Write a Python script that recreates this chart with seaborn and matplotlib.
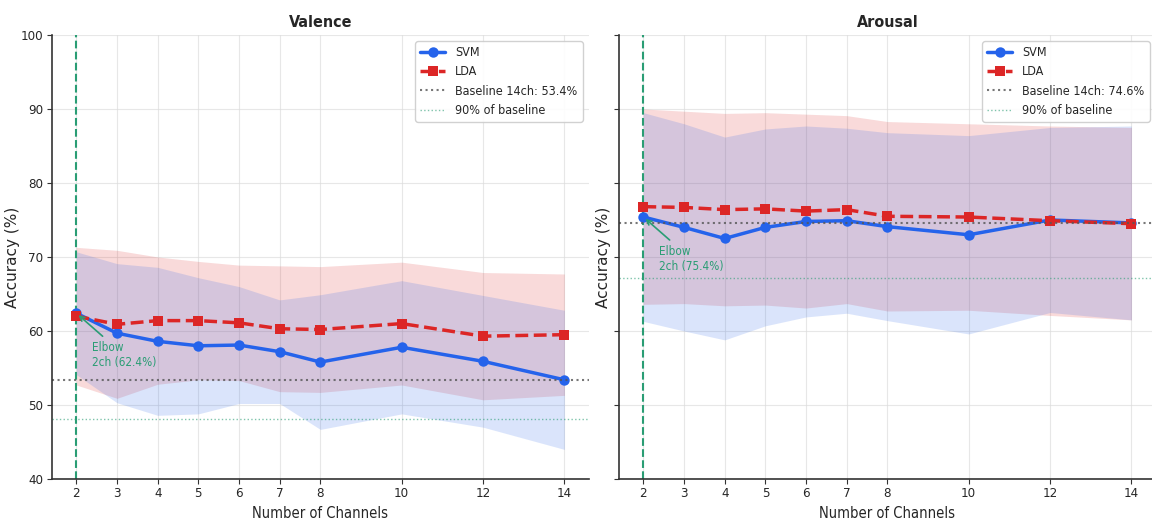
import matplotlib
matplotlib.use("Agg")
import matplotlib.pyplot as plt
import numpy as np
import pandas as pd
import seaborn as sns

# ---------------- data ----------------
channels = [2, 3, 4, 5, 6, 7, 8, 10, 12, 14]

valence_svm_mean = [62.4, 59.7, 58.6, 58.0, 58.1, 57.2, 55.8, 57.8, 55.9, 53.4]
valence_svm_std = [8.3, 9.4, 10.0, 9.2, 7.9, 7.0, 9.1, 9.0, 8.9, 9.4]
valence_lda_mean = [62.0, 60.9, 61.4, 61.4, 61.1, 60.3, 60.2, 61.0, 59.3, 59.5]
valence_lda_std = [9.3, 10.0, 8.6, 8.0, 7.8, 8.5, 8.5, 8.3, 8.6, 8.2]

arousal_svm_mean = [75.4, 74.0, 72.5, 74.0, 74.8, 74.9, 74.1, 73.0, 75.0, 74.6]
arousal_svm_std = [14.1, 14.0, 13.7, 13.3, 12.9, 12.5, 12.7, 13.4, 12.5, 13.1]
arousal_lda_mean = [76.8, 76.7, 76.4, 76.5, 76.2, 76.4, 75.5, 75.4, 74.9, 74.5]
arousal_lda_std = [13.2, 13.0, 13.0, 13.0, 13.1, 12.7, 12.8, 12.6, 12.8, 13.0]

panel_titles = ["Valence", "Arousal"]
baseline_values = [53.4, 74.6]
elbow_channels = [2, 2]
elbow_values = [62.4, 75.4]

# ---------------- style ----------------
sns.set_style("ticks")
plt.rcParams["font.family"] = ["DejaVu Sans"]
plt.rcParams["font.stretch"] = "condensed"

BLUE = "#2563eb"
RED = "#dc2626"
GREEN = "#2a9d74"

fig = plt.figure(figsize=(11.52, 5.22), dpi=100)
ax1 = fig.add_axes([0.0451, 0.0824, 0.466, 0.8506])
ax2 = fig.add_axes([0.5373, 0.0824, 0.466, 0.8506], sharey=ax1)
axes = [ax1, ax2]

panels = [
    (valence_svm_mean, valence_svm_std, valence_lda_mean, valence_lda_std),
    (arousal_svm_mean, arousal_svm_std, arousal_lda_mean, arousal_lda_std),
]

for i, ax in enumerate(axes):
    svm_m, svm_s, lda_m, lda_s = [np.array(a) for a in panels[i]]
    df = pd.DataFrame({"Channels": channels, "SVM": svm_m, "LDA": lda_m})

    ax.fill_between(channels, lda_m - lda_s, lda_m + lda_s, color=RED, alpha=0.17, lw=0)
    ax.fill_between(channels, svm_m - svm_s, svm_m + svm_s, color=BLUE, alpha=0.17, lw=0)

    sns.lineplot(data=df, x="Channels", y="SVM", ax=ax, color=BLUE, marker="o",
                 markersize=7.5, markeredgewidth=0, linewidth=2.5, label="SVM")
    sns.lineplot(data=df, x="Channels", y="LDA", ax=ax, color=RED, marker="s",
                 markersize=7.5, markeredgewidth=0, linewidth=2.5, linestyle="--",
                 label="LDA")

    base = baseline_values[i]
    ax.axhline(base, color="#555555", linestyle=":", linewidth=1.5, alpha=0.8,
               label=f"Baseline 14ch: {base:.1f}%")
    ax.axhline(0.9 * base, color=GREEN, linestyle=":", linewidth=1.0, alpha=0.6,
               label="90% of baseline")
    ax.axvline(elbow_channels[i], color=GREEN, linestyle="--", linewidth=1.5,
               zorder=1.5)

    ex, ey = elbow_channels[i], elbow_values[i]
    ax.annotate(f"Elbow\n{ex}ch ({ey:.1f}%)", xy=(ex, ey),
                xytext=(ex + 0.39, ey - 3.8), va="top", ha="left",
                color=GREEN, fontsize=8.5,
                arrowprops=dict(arrowstyle="->", color=GREEN, lw=1.2))

    ax.set_title(panel_titles[i], fontsize=11.5, fontweight="bold", pad=6)
    ax.set_xlabel("Number of Channels", fontsize=10.5)
    ax.set_ylabel("Accuracy (%)", fontsize=11, fontstretch="normal",
                  labelpad=0.5 if i == 0 else 2)
    ax.set_xticks(channels)
    ax.set_ylim(40, 100)
    ax.set_yticks(range(40, 101, 10))
    ax.tick_params(labelsize=9.5, length=3.5, pad=2.5, color="#333333")
    ax.grid(True, color="#dddddd", linewidth=0.8, alpha=0.7)
    for side in ["left", "bottom"]:
        ax.spines[side].set_color("#333333")
        ax.spines[side].set_linewidth(1.2)
    sns.despine(ax=ax)
    ax.legend(loc="upper right", fontsize=9, frameon=True, fancybox=True,
              edgecolor="#cccccc", framealpha=0.9)

ax2.tick_params(labelleft=False)

fig.savefig("out.png", dpi=100)
